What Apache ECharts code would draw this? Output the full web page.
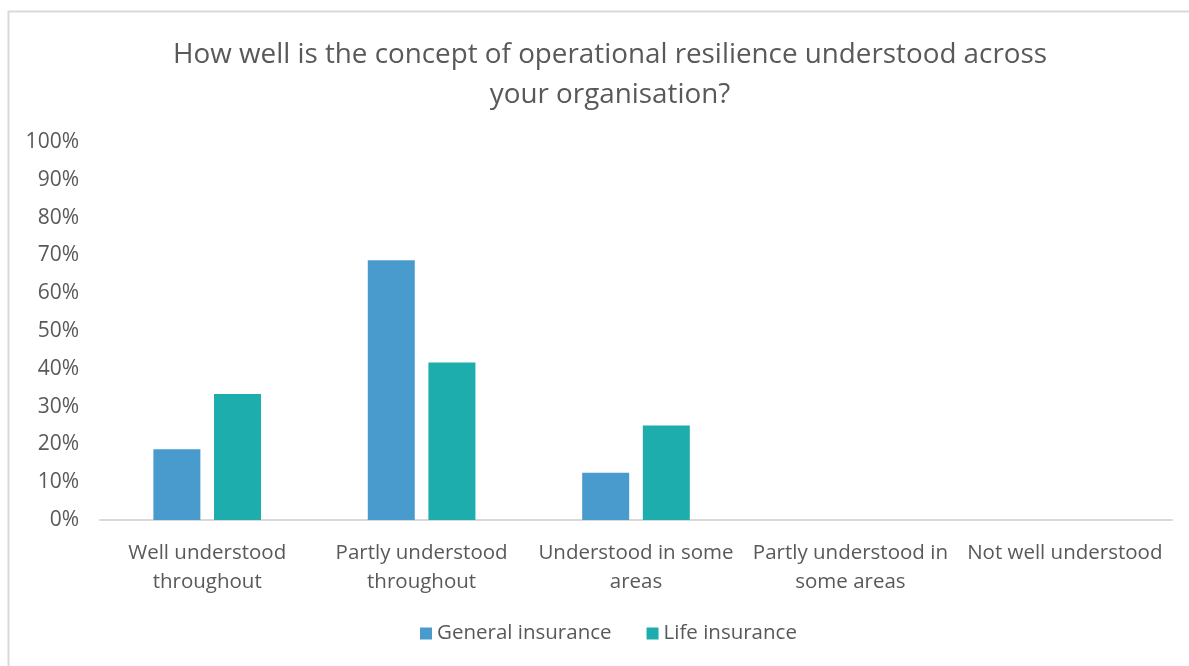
<!DOCTYPE html>
<html>
<head>
<meta charset="utf-8">
<script src="https://cdn.jsdelivr.net/npm/echarts@6/dist/echarts.min.js"></script>
<style>
  html, body { margin: 0; padding: 0; background: #ffffff; }
  #chart { width: 1189px; height: 666px; }
</style>
</head>
<body>
<div id="chart"></div>
<script>
// Survey answers (share of respondents, %)
const categories = [
  'Well understood\nthroughout',
  'Partly understood\nthroughout',
  'Understood in some\nareas',
  'Partly understood in\nsome areas',
  'Not well understood'
];
const generalInsurance = [18.75, 68.75, 12.5, 0, 0];
const lifeInsurance = [33.33, 41.67, 25, 0, 0];
const seriesNames = ['General insurance', 'Life insurance'];
const titleText = 'How well is the concept of operational resilience understood across\nyour organisation?';

const textColor = '#595959';
const fontFamily = '"Open Sans", "Noto Sans", sans-serif';

const chart = echarts.init(document.getElementById('chart'), null, { renderer: 'canvas' });
chart.setOption({
  backgroundColor: '#ffffff',
  animation: false,
  title: {
    text: titleText,
    left: 605,
    textAlign: 'center',
    top: 30,
    textStyle: {
      fontFamily: fontFamily,
      fontSize: 27.8,
      fontWeight: 'normal',
      color: textColor,
      lineHeight: 40
    }
  },
  graphic: [{
    type: 'rect',
    shape: { x: 8.5, y: 11.5, width: 1300, height: 800 },
    style: { fill: 'none', stroke: '#d9d9d9', lineWidth: 2 },
    silent: true
  }],
  legend: {
    bottom: 17,
    left: 415,
    itemWidth: 12,
    itemHeight: 12,
    itemGap: 35,
    icon: 'rect',
    textStyle: { fontFamily: fontFamily, fontSize: 20.5, color: textColor },
    data: seriesNames
  },
  grid: { left: 100, right: 17, top: 142, bottom: 146, containLabel: false },
  xAxis: {
    type: 'category',
    data: categories,
    axisLine: { show: true, lineStyle: { color: '#d9d9d9', width: 2 } },
    axisTick: { show: false },
    axisLabel: {
      interval: 0,
      margin: 19,
      fontFamily: fontFamily,
      fontSize: 20.5,
      lineHeight: 29,
      color: textColor
    }
  },
  yAxis: {
    type: 'value',
    min: 0,
    max: 100,
    interval: 10,
    axisLine: { show: false },
    axisTick: { show: false },
    splitLine: { show: false },
    axisLabel: {
      margin: 21,
      fontFamily: fontFamily,
      fontSize: 21,
      color: textColor,
      formatter: v => v + '%'
    }
  },
  series: [
    {
      name: seriesNames[0],
      type: 'bar',
      data: generalInsurance,
      barWidth: 47,
      barGap: '29%',
      itemStyle: { color: '#4a9bcd' }
    },
    {
      name: seriesNames[1],
      type: 'bar',
      data: lifeInsurance,
      barWidth: 47,
      barGap: '29%',
      itemStyle: { color: '#1eadad' }
    }
  ]
});
</script>
</body>
</html>
